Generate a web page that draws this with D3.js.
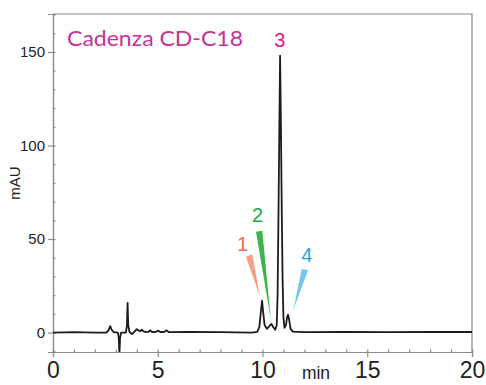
<!DOCTYPE html>
<html>
<head>
<meta charset="utf-8">
<script src="https://cdn.jsdelivr.net/npm/d3@7"></script>
<style>
  html, body { margin: 0; padding: 0; background: #fff; }
  svg { display: block; }
</style>
</head>
<body>
<div id="chart"></div>
<script>
// retention time (min) and detector signal (mAU)
const traceTime = [0, 1.0, 2.0, 2.55, 2.65, 2.73, 2.8, 2.9, 3.1, 3.14, 3.17, 3.2, 3.25, 3.48, 3.53, 3.56, 3.59, 3.65, 3.77, 3.9, 4.0, 4.1, 4.18, 4.24, 4.32, 4.45, 4.58, 4.64, 4.72, 4.9, 5.03, 5.12, 5.3, 5.43, 5.52, 6.5, 8.0, 9.5, 9.75, 9.85, 9.93, 9.98, 10.03, 10.1, 10.21, 10.3, 10.38, 10.43, 10.5, 10.61, 10.68, 10.72, 10.76, 10.8, 10.84, 10.88, 10.92, 10.96, 11.0, 11.05, 11.12, 11.18, 11.22, 11.27, 11.34, 11.45, 12, 14, 16, 18, 20];
const traceMAU = [0, 0.2, 0, 0, 1.2, 3.4, 1.5, 0.2, 0, -3, -12, -3, 0, 0, 4, 15.8, 4, 0.3, -0.8, 0.6, 1.8, 1, 0.8, 1.5, 0.6, 0.2, 0.5, 1.2, 0.3, 0.4, 1.0, 0.3, 0.3, 1.2, 0.2, 0.3, 0.2, 0, 0.4, 3, 12, 17, 11, 4, 2, 3, 4.2, 4.6, 3, 1.5, 4, 20, 60, 105, 148, 110, 65, 28, 8, 2.5, 4, 8.5, 9.5, 7, 2, 0.5, 0.2, 0.3, 0.2, 0.3, 0.3];

const xTicks = [0, 5, 10, 15, 20];
const yTicks = [0, 50, 100, 150];

// peak labels: text, colour, position (min, mAU)
const peakNames = ['1', '2', '3', '4'];
const peakTextColors = ['#f26b4f', '#22a84a', '#e6157f', '#1ea7e1'];
const peakWedgeColors = ['#f5a07f', '#3cb44b', null, '#72c7ef'];
const peakLabelPos = [[9.05, 43.6], [9.76, 59.1], [10.83, 152.5], [12.12, 37.7]];
// pointer wedges: two base corners then the tip (min, mAU)
const peakWedges = [
  [[9.21, 40.5], [9.51, 41.8], [9.88, 19.1]],
  [[9.69, 53.9], [9.99, 54.4], [10.40, 6.7]],
  null,
  [[11.87, 33.8], [12.18, 33.4], [11.47, 12.0]]
];

let margin = { top: 14, right: 14, bottom: 33, left: 53 };
let width = 486 - margin.left - margin.right;
let height = 385 - margin.top - margin.bottom;

let x = d3.scaleLinear().domain([0, 20]).range([0, width]);
let y = d3.scaleLinear().domain([-10.4, 170.3]).range([height, 0]);

let svg = d3.select('#chart').append('svg')
  .attr('width', 486)
  .attr('height', 385);

let chart = svg.append('g')
  .attr('transform', `translate(${margin.left},${margin.top})`);

svg.append('defs').append('clipPath').attr('id', 'plot')
  .append('rect').attr('width', width).attr('height', height);

let axisColor = '#8a8a8a';

// minor ticks (inward)
let xAxisMinor = d3.axisBottom(x).tickValues(d3.range(0, 21, 1)).tickSize(-2.5).tickFormat('');
let yAxisMinor = d3.axisLeft(y).tickValues(d3.range(-10, 171, 10)).tickSize(-2.5).tickFormat('');
let xAxis = d3.axisBottom(x).tickValues(xTicks).tickSize(5).tickPadding(5).tickFormat(d3.format('d'));
let yAxis = d3.axisLeft(y).tickValues(yTicks).tickSize(5).tickPadding(3);

chart.append('g').attr('transform', `translate(0,${height})`).call(xAxisMinor);
chart.append('g').call(yAxisMinor);

let gx = chart.append('g').attr('transform', `translate(0,${height})`).call(xAxis);
gx.selectAll('text')
  .attr('font-family', 'Liberation Sans, Arial, sans-serif')
  .attr('font-size', 23)
  .attr('fill', '#222');

let gy = chart.append('g').call(yAxis);
gy.selectAll('text')
  .attr('font-family', 'Liberation Sans, Arial, sans-serif')
  .attr('font-size', 15)
  .attr('fill', '#222');

chart.selectAll('.domain, .tick line').attr('stroke', axisColor).attr('stroke-width', 1.2);

// top and right frame
chart.append('path')
  .attr('d', `M0,0H${width}V${height}`)
  .attr('fill', 'none')
  .attr('stroke', axisColor)
  .attr('stroke-width', 1.2);

chart.append('text')
  .attr('x', 316 - margin.left)
  .attr('y', height + 27)
  .attr('text-anchor', 'middle')
  .attr('font-family', 'Liberation Sans, Arial, sans-serif')
  .attr('font-size', 17.5)
  .attr('fill', '#222')
  .text('min');

svg.append('text')
  .attr('transform', 'translate(20,183) rotate(-90)')
  .attr('text-anchor', 'middle')
  .attr('font-family', 'Liberation Sans, Arial, sans-serif')
  .attr('font-size', 15)
  .attr('fill', '#222')
  .text('mAU');

chart.append('text')
  .attr('x', 67 - margin.left)
  .attr('y', 46 - margin.top)
  .attr('font-family', 'Lato, Open Sans, sans-serif')
  .attr('font-size', 22)
  .attr('textLength', 176)
  .attr('lengthAdjust', 'spacingAndGlyphs')
  .attr('fill', '#c4339b')
  .text('Cadenza CD-C18');

// chromatogram trace
let trace = traceTime.map((t, i) => [t, traceMAU[i]]);
let line = d3.line().x(d => x(d[0])).y(d => y(d[1]));

chart.append('path')
  .datum(trace)
  .attr('clip-path', 'url(#plot)')
  .attr('d', line)
  .attr('fill', 'none')
  .attr('stroke', '#1c1c1c')
  .attr('stroke-width', 1.8)
  .attr('stroke-linejoin', 'round');

// peak annotations
peakWedges.forEach((w, i) => {
  if (!w) return;
  chart.append('path')
    .attr('d', 'M' + w.map(p => x(p[0]) + ',' + y(p[1])).join('L') + 'Z')
    .attr('fill', peakWedgeColors[i]);
});

chart.selectAll('.peak-label')
  .data(peakNames)
  .enter()
  .append('text')
  .attr('class', 'peak-label')
  .attr('x', (d, i) => x(peakLabelPos[i][0]))
  .attr('y', (d, i) => y(peakLabelPos[i][1]))
  .attr('text-anchor', 'middle')
  .attr('font-family', 'Liberation Sans, Arial, sans-serif')
  .attr('font-size', 20)
  .attr('fill', (d, i) => peakTextColors[i])
  .text(d => d);
</script>
</body>
</html>
